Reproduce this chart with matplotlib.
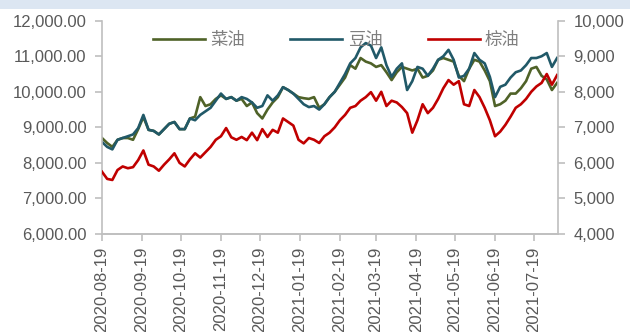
import matplotlib.pyplot as plt
import matplotlib.dates as mdates
import matplotlib.ticker as mticker
from matplotlib.patches import Rectangle
import pandas as pd

plt.rcParams['font.family'] = ['Liberation Sans', 'Noto Sans CJK SC']

# 价格数据，4日一个点
dates = pd.date_range('2020-08-19', periods=89, freq='4D')

# 菜油（左轴）
caiyou = [8700, 8560, 8450, 8650, 8700, 8700, 8650, 8950, 9290, 8930,
          8900, 8800, 8950, 9100, 9150, 8950, 8950, 9250, 9300, 9850,
          9600, 9650, 9800, 9900, 9800, 9850, 9750, 9800, 9600, 9700,
          9400, 9250, 9500, 9700, 9850, 10130, 10050, 9950, 9850, 9820,
          9800, 9850, 9550, 9650, 9850, 10000, 10200, 10400, 10750, 10650,
          10950, 10850, 10800, 10700, 10750, 10550, 10330, 10550, 10700, 10650,
          10600, 10650, 10400, 10450, 10600, 10900, 10950, 10900, 10850, 10450,
          10300, 10650, 10900, 10850, 10600, 10300, 9600, 9650, 9750, 9950,
          9950, 10100, 10300, 10650, 10700, 10450, 10350, 10050, 10250]

# 豆油（左轴）
douyou = [8590, 8450, 8380, 8650, 8700, 8750, 8800, 8980, 9350, 8930,
          8900, 8800, 8950, 9100, 9150, 8950, 8950, 9250, 9200, 9350,
          9450, 9550, 9750, 9950, 9800, 9850, 9750, 9850, 9800, 9700,
          9550, 9600, 9900, 9750, 9900, 10130, 10050, 9950, 9800, 9650,
          9570, 9600, 9500, 9650, 9850, 10000, 10250, 10500, 10800, 10950,
          11250, 11370, 11300, 10950, 11250, 10750, 10420, 10650, 10800, 10050,
          10300, 10700, 10650, 10450, 10650, 10900, 11000, 11180, 10900, 10400,
          10450, 10650, 11090, 10900, 10800, 10420, 9850, 10140, 10200, 10400,
          10550, 10600, 10750, 10950, 10950, 11000, 11090, 10700, 10950]

# 棕油（右轴）
zongyou = [5750, 5550, 5520, 5800, 5900, 5850, 5880, 6080, 6350, 5950,
           5900, 5780, 5950, 6100, 6270, 6000, 5900, 6100, 6270, 6150,
           6300, 6450, 6650, 6750, 6980, 6720, 6650, 6730, 6640, 6850,
           6640, 6950, 6730, 6930, 6850, 7250, 7150, 7050, 6650, 6550,
           6700, 6650, 6560, 6750, 6850, 7000, 7200, 7350, 7550, 7600,
           7750, 7850, 7990, 7750, 8000, 7600, 7750, 7700, 7570, 7400,
           6850, 7200, 7650, 7400, 7550, 7800, 8100, 8330, 8200, 8300,
           7650, 7600, 8050, 7850, 7550, 7200, 6750, 6880, 7070, 7300,
           7550, 7650, 7800, 8000, 8150, 8250, 8500, 8200, 8470]

month_ticks = pd.to_datetime(['2020-08-19', '2020-09-19', '2020-10-19', '2020-11-19',
                              '2020-12-19', '2021-01-19', '2021-02-19', '2021-03-19',
                              '2021-04-19', '2021-05-19', '2021-06-19', '2021-07-19'])

grey = '#bfbfbf'
label_grey = '#595959'

fig = plt.figure(figsize=(6.3, 3.32), dpi=100)
fig.patches.append(Rectangle((0, 1 - 9 / 332), 1, 9 / 332, transform=fig.transFigure,
                             facecolor='#dce6f2', edgecolor='none', zorder=0))
ax = fig.add_axes([102 / 630, 1 - 234 / 332, 456 / 630, 213.3 / 332])
ax2 = ax.twinx()

l1, = ax.plot(dates, caiyou, color='#4f6228', lw=1.9, label='菜油')
l2, = ax.plot(dates, douyou, color='#215968', lw=1.9, label='豆油')
l3, = ax2.plot(dates, zongyou, color='#c00000', lw=1.9, label='棕油')

ax.set_xlim(dates[0], dates[0] + pd.Timedelta(days=352.7))
ax.set_ylim(6000, 12000)
ax2.set_ylim(4000, 10000)
ax.yaxis.set_major_locator(mticker.MultipleLocator(1000))
ax2.yaxis.set_major_locator(mticker.MultipleLocator(1000))
ax.yaxis.set_major_formatter(mticker.FuncFormatter(lambda v, p: f'{v:,.2f}'))
ax2.yaxis.set_major_formatter(mticker.FuncFormatter(lambda v, p: f'{v:,.0f}'))

ax.set_xticks(month_ticks)
ax.xaxis.set_major_formatter(mdates.DateFormatter('%Y-%m-%d'))
for lab in ax.get_xticklabels():
    lab.set_rotation(90)

for a in (ax, ax2):
    for s in a.spines.values():
        s.set_color(grey)
        s.set_linewidth(1.2)
    a.spines['top'].set_visible(False)
    a.tick_params(colors=grey, labelcolor=label_grey, labelsize=12, length=5, width=1.2)
ax.spines['right'].set_visible(False)
ax2.spines['left'].set_visible(False)
ax.tick_params(axis='y', pad=6)
ax2.tick_params(axis='y', pad=6)
ax.tick_params(axis='x', pad=4)

leg = ax.legend(handles=[l1, l2, l3], loc='center', bbox_to_anchor=(0.514, 0.909),
                ncol=3, frameon=False, fontsize=12.5, handlelength=3.0,
                handletextpad=0.3, columnspacing=2.6)
for t in leg.get_texts():
    t.set_color('#7f7f7f')

fig.savefig('out.png', dpi=100)
